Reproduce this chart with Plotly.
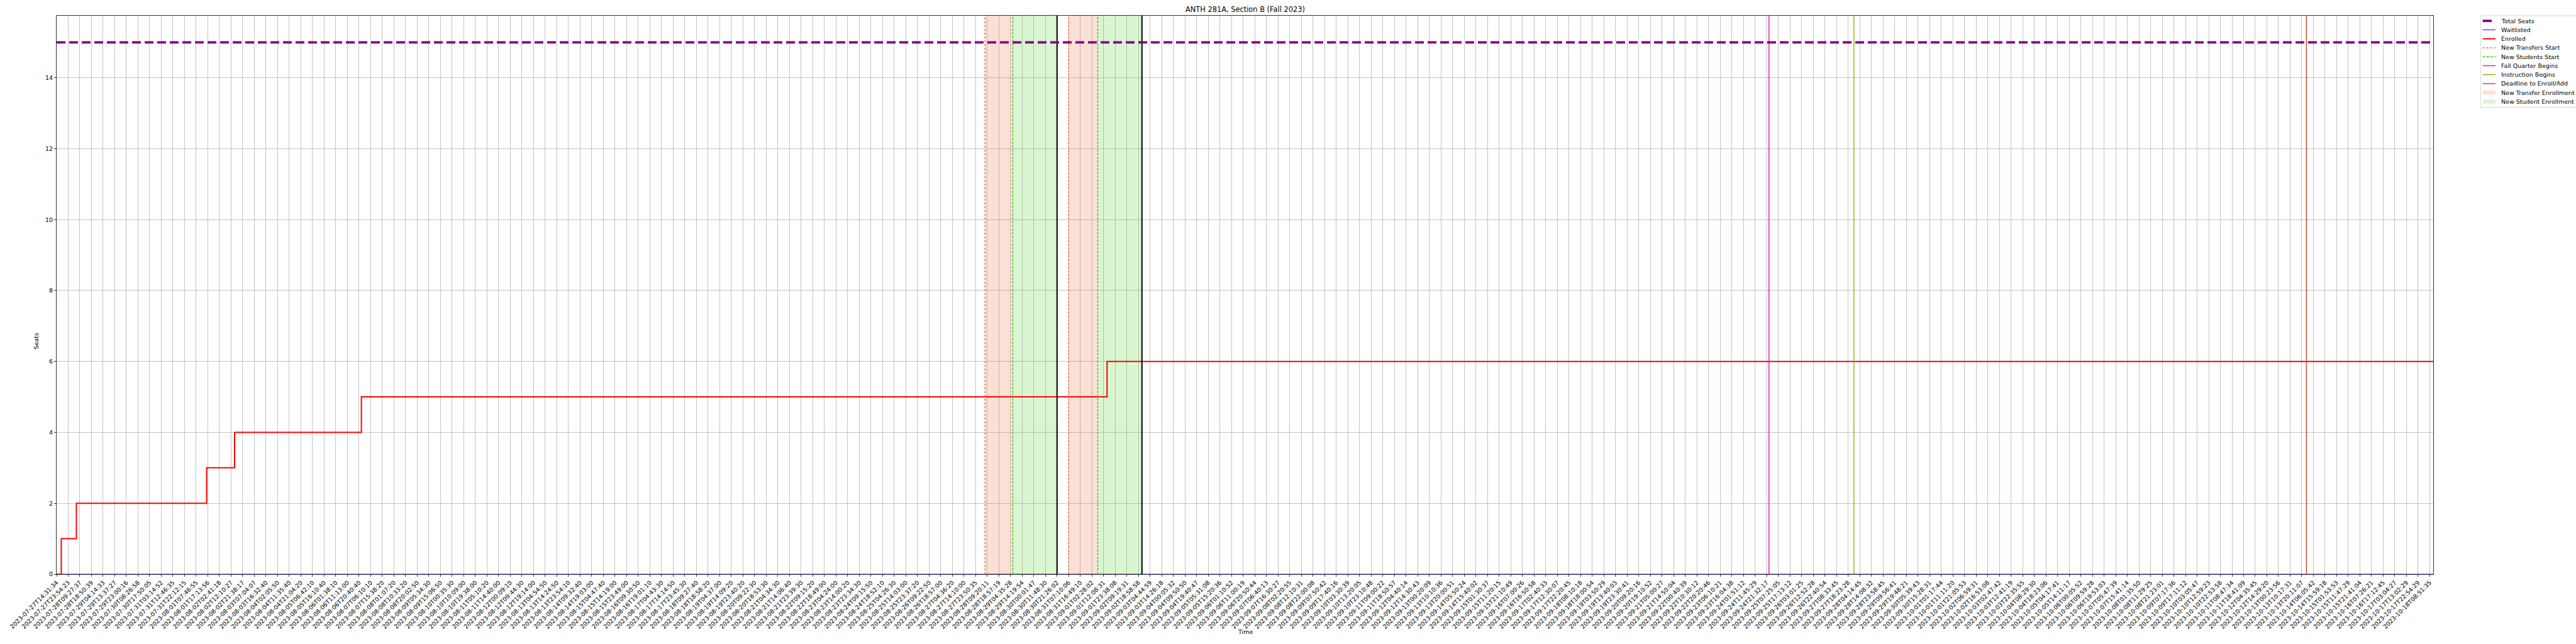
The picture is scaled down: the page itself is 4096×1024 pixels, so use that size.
import numpy as np
import plotly.graph_objects as go

# ---------------- data ----------------
SNAPS_PER_TICK = 10          # snapshots between labelled ticks
n_snapshots = 2044

tick_labels = [
    "2023-07-27T14:31:34", "2023-07-27T23:54:23", "2023-07-28T09:27:37", "2023-07-28T18:50:39",
    "2023-07-29T04:14:33", "2023-07-29T13:37:27", "2023-07-29T23:00:16", "2023-07-30T08:26:58",
    "2023-07-30T17:50:05", "2023-07-31T03:14:52", "2023-07-31T12:46:35", "2023-07-31T22:12:15",
    "2023-08-01T07:46:55", "2023-08-01T17:13:56", "2023-08-02T02:41:18", "2023-08-02T12:10:27",
    "2023-08-02T21:38:17", "2023-08-03T07:04:07", "2023-08-03T16:32:40", "2023-08-04T02:05:50",
    "2023-08-04T11:35:40", "2023-08-04T21:04:20", "2023-08-05T06:42:10", "2023-08-05T16:10:40",
    "2023-08-06T01:38:10", "2023-08-06T11:13:00", "2023-08-06T20:40:40", "2023-08-07T06:10:10",
    "2023-08-07T15:38:20", "2023-08-08T01:07:20", "2023-08-08T10:33:20", "2023-08-08T20:02:50",
    "2023-08-09T05:34:30", "2023-08-09T15:06:50", "2023-08-10T00:35:30", "2023-08-10T10:09:00",
    "2023-08-10T19:38:00", "2023-08-11T05:10:20", "2023-08-11T14:40:00", "2023-08-12T00:09:10",
    "2023-08-12T09:44:30", "2023-08-12T19:14:00", "2023-08-13T04:54:50", "2023-08-13T14:24:50",
    "2023-08-13T23:54:10", "2023-08-14T09:32:40", "2023-08-14T19:03:00", "2023-08-15T04:47:40",
    "2023-08-15T14:19:00", "2023-08-15T23:49:00", "2023-08-16T09:30:50", "2023-08-16T19:01:10",
    "2023-08-17T04:43:30", "2023-08-17T14:14:50", "2023-08-17T23:45:30", "2023-08-18T09:27:40",
    "2023-08-18T18:58:20", "2023-08-19T04:37:00", "2023-08-19T14:09:20", "2023-08-19T23:40:20",
    "2023-08-20T09:22:30", "2023-08-20T18:53:30", "2023-08-21T04:34:30", "2023-08-21T14:06:40",
    "2023-08-21T23:39:30", "2023-08-22T09:15:20", "2023-08-22T18:49:00", "2023-08-23T04:24:00",
    "2023-08-23T14:00:20", "2023-08-23T23:34:30", "2023-08-24T09:15:50", "2023-08-24T18:52:10",
    "2023-08-25T04:26:30", "2023-08-25T14:03:00", "2023-08-25T23:37:20", "2023-08-26T09:22:50",
    "2023-08-26T18:57:00", "2023-08-27T04:36:20", "2023-08-27T14:10:00", "2023-08-27T23:50:35",
    "2023-08-28T09:20:11", "2023-08-28T18:57:19", "2023-08-29T04:35:28", "2023-08-29T14:19:54",
    "2023-08-30T00:01:47", "2023-08-30T11:48:30", "2023-08-30T21:26:02", "2023-08-31T07:10:06",
    "2023-08-31T16:49:10", "2023-09-01T02:28:02", "2023-09-01T12:08:31", "2023-09-01T23:38:08",
    "2023-09-02T09:19:31", "2023-09-02T18:58:58", "2023-09-03T04:44:59", "2023-09-03T14:26:18",
    "2023-09-04T00:05:32", "2023-09-04T09:50:50",
    "2023-09-04T19:40:47", "2023-09-05T05:31:08", "2023-09-05T15:20:36", "2023-09-06T01:10:52",
    "2023-09-06T11:00:19", "2023-09-06T20:50:44", "2023-09-07T06:40:13", "2023-09-07T16:30:27",
    "2023-09-08T02:20:55", "2023-09-08T12:10:31", "2023-09-08T22:00:08", "2023-09-09T07:50:42",
    "2023-09-09T17:40:16", "2023-09-10T03:30:39", "2023-09-10T13:20:05", "2023-09-10T23:10:48",
    "2023-09-11T09:00:22", "2023-09-11T18:50:57", "2023-09-12T04:40:14", "2023-09-12T14:30:43",
    "2023-09-13T00:20:09", "2023-09-13T10:10:36", "2023-09-13T20:00:51", "2023-09-14T05:50:24",
    "2023-09-14T15:40:02", "2023-09-15T01:30:37", "2023-09-15T11:20:15", "2023-09-15T21:10:49",
    "2023-09-16T07:00:26", "2023-09-16T16:50:58", "2023-09-17T02:40:33", "2023-09-17T12:30:07",
    "2023-09-17T22:20:45", "2023-09-18T08:10:18", "2023-09-18T18:00:54", "2023-09-19T03:50:29",
    "2023-09-19T13:40:03", "2023-09-19T23:30:41", "2023-09-20T09:20:16", "2023-09-20T19:10:52",
    "2023-09-21T05:00:27", "2023-09-21T14:50:04", "2023-09-22T00:40:39", "2023-09-22T10:30:12",
    "2023-09-22T20:20:46", "2023-09-23T06:10:21",
    "2023-09-23T16:04:38", "2023-09-24T01:51:12", "2023-09-24T11:45:29", "2023-09-24T21:32:17",
    "2023-09-25T07:25:05", "2023-09-25T17:13:12", "2023-09-26T03:01:25", "2023-09-26T12:52:28",
    "2023-09-26T22:40:54", "2023-09-27T08:33:45", "2023-09-27T18:23:28", "2023-09-28T04:14:45",
    "2023-09-28T14:08:32", "2023-09-28T23:58:45", "2023-09-29T09:56:41", "2023-09-29T19:48:21",
    "2023-09-30T05:39:43", "2023-09-30T15:28:31",
    "2023-10-01T01:17:44", "2023-10-01T11:11:20", "2023-10-01T21:05:53", "2023-10-02T06:59:31",
    "2023-10-02T16:53:08", "2023-10-03T02:47:42", "2023-10-03T12:41:19", "2023-10-03T22:35:55",
    "2023-10-04T08:29:30", "2023-10-04T18:23:06", "2023-10-05T04:17:41", "2023-10-05T14:11:17",
    "2023-10-06T00:05:52", "2023-10-06T09:59:28", "2023-10-06T19:53:03", "2023-10-07T05:47:39",
    "2023-10-07T15:41:14", "2023-10-08T01:35:50", "2023-10-08T11:29:25", "2023-10-08T21:23:01",
    "2023-10-09T07:17:36", "2023-10-09T17:11:12", "2023-10-10T03:05:47", "2023-10-10T12:59:23",
    "2023-10-10T22:53:58", "2023-10-11T08:47:34", "2023-10-11T18:41:09", "2023-10-12T04:35:45",
    "2023-10-12T14:29:20", "2023-10-13T00:23:56", "2023-10-13T10:17:31", "2023-10-13T20:11:07",
    "2023-10-14T06:05:42", "2023-10-14T15:59:18", "2023-10-15T01:53:53", "2023-10-15T11:47:29",
    "2023-10-15T21:41:04",
    "2023-10-16T07:26:21", "2023-10-16T17:12:45", "2023-10-17T03:04:27", "2023-10-17T13:02:29",
    "2023-10-17T22:54:29", "2023-10-18T08:51:35",
]

# enrolment counts: snapshot index where each new value starts
enroll_change_idx = [0, 4, 17, 129, 153, 262, 903]
enroll_values = [0, 1, 2, 3, 4, 5, 6]
waitlisted_value = 0
total_seats = 15

# event markers (snapshot index)
transfer_start_idx = [798, 870]
student_start_idx = [822, 895]
enrollment_end_idx = [860, 933]
fall_quarter_idx = 1472
instruction_idx = 1545
deadline_idx = 1934

title_text = "ANTH 281A, Section B (Fall 2023)"
x_title = "Time"
y_title = "Seats"

# ---------------- styling ----------------
S = 0.682
FONT = "DejaVu Sans"
Y_MAX = 15.75
W, H = 4096, 1024
L, R, T, B = 131.3 * S, 5672.3 * S, 37.3 * S, 1339.3 * S

C_SEATS = "#800080"
C_WAIT = "#0000ff"
C_ENR = "#ff0000"
C_TR = "#ea6a2a"
C_ST = "#3ccc1c"
C_FQ = "#e0109a"
C_IB = "#8db600"
C_DL = "#c8401a"
TR_FILL = "rgba(235,110,60,0.21)"
ST_FILL = "rgba(80,210,40,0.21)"

x = np.arange(n_snapshots)
enrolled = np.array(enroll_values)[np.searchsorted(enroll_change_idx, x, side="right") - 1]
waitlisted = np.full(n_snapshots, waitlisted_value)
seats = np.full(n_snapshots, total_seats)

fig = go.Figure()


def vline(xv, color, width, dash):
    fig.add_trace(go.Scatter(x=[xv, xv], y=[0, Y_MAX], mode="lines", hoverinfo="skip",
                             showlegend=False, line=dict(color=color, width=width, dash=dash)))


def vspan(x0, x1, color):
    fig.add_trace(go.Scatter(x=[x0, x0, x1, x1, x0], y=[0, Y_MAX, Y_MAX, 0, 0], mode="lines",
                             fill="toself", fillcolor=color, line=dict(width=0, color=color),
                             showlegend=False, hoverinfo="skip"))


for i in range(2):
    vspan(transfer_start_idx[i], student_start_idx[i], TR_FILL)
    vspan(student_start_idx[i], enrollment_end_idx[i], ST_FILL)

fig.add_trace(go.Scatter(x=x, y=waitlisted, mode="lines", showlegend=False,
                         line=dict(color=C_WAIT, width=1.0)))
fig.add_trace(go.Scatter(x=x, y=enrolled, mode="lines", showlegend=False,
                         line=dict(color=C_ENR, width=2.0, shape="hv")))

for i in range(2):
    vline(transfer_start_idx[i], C_TR, 1.4, "dot")
    vline(student_start_idx[i], C_ST, 1.4, "4px,2px")
    vline(enrollment_end_idx[i], "#000000", 2.0, "solid")
vline(fall_quarter_idx, C_FQ, 1.4, "solid")
vline(instruction_idx, C_IB, 1.4, "solid")
vline(deadline_idx, C_DL, 1.4, "solid")

fig.add_trace(go.Scatter(x=x, y=seats, mode="lines", showlegend=False,
                         line=dict(color=C_SEATS, width=3.8, dash="14px,6px")))

tickvals = [i * SNAPS_PER_TICK for i in range(len(tick_labels))]

# ---------------- legend (drawn in pixel space) ----------------
def px_x(p):
    return (p - L) / (R - L)


def px_y(p):
    return (B - p) / (B - T)


legend_items = [
    ("Total Seats", "line", C_SEATS, 3.8, "solid", 14.3),
    ("Waitlisted", "line", C_WAIT, 1.0, "solid", 20.2),
    ("Enrolled", "line", C_ENR, 2.0, "solid", 20.2),
    ("New Transfers Start", "line", C_TR, 1.4, "dot", 20.2),
    ("New Students Start", "line", C_ST, 1.4, "4px,2px", 20.2),
    ("Fall Quarter Begins", "line", C_FQ, 1.4, "solid", 20.2),
    ("Instruction Begins", "line", C_IB, 1.4, "solid", 20.2),
    ("Deadline to Enroll/Add", "line", C_DL, 1.4, "solid", 20.2),
    ("New Transfer Enrollment", "patch", TR_FILL, 0, "", 20.2),
    ("New Student Enrollment", "patch", ST_FILL, 0, "", 20.2),
]
LEG_X0, LEG_TOP, LEG_BOT = 5782.7 * S, 37.3 * S, 250.7 * S
SYM_X0, TXT_X = 5787.7 * S, 5827.0 * S
ROW0, ROW_STEP = 49.3 * S, 20.9 * S

shapes = [dict(type="rect", xref="paper", yref="paper", x0=px_x(LEG_X0), x1=px_x(W + 20),
               y0=px_y(LEG_BOT), y1=px_y(LEG_TOP), fillcolor="white",
               line=dict(color="#cccccc", width=0.8), layer="above")]
annotations = []
for k, (name, kind, color, width, dash, length) in enumerate(legend_items):
    yc = ROW0 + k * ROW_STEP
    if kind == "line":
        shapes.append(dict(type="line", xref="paper", yref="paper", x0=px_x(SYM_X0),
                           x1=px_x(SYM_X0 + length), y0=px_y(yc), y1=px_y(yc),
                           line=dict(color=color, width=width, dash=dash), layer="above"))
    else:
        shapes.append(dict(type="rect", xref="paper", yref="paper", x0=px_x(SYM_X0),
                           x1=px_x(SYM_X0 + length), y0=px_y(yc + 3.2), y1=px_y(yc - 3.2),
                           fillcolor=color, line=dict(width=0), layer="above"))
    annotations.append(dict(text=name, xref="paper", yref="paper", x=px_x(TXT_X), y=px_y(yc),
                            xanchor="left", yanchor="middle", showarrow=False,
                            font=dict(family=FONT, size=9.5, color="black")))

annotations += [
    dict(text=title_text, xref="paper", yref="paper", x=0.5, y=px_y(15.6),
         xanchor="center", yanchor="middle", showarrow=False,
         font=dict(family=FONT, size=11.4, color="black")),
    dict(text=x_title, xref="paper", yref="paper", x=0.5, y=px_y(1005.0),
         xanchor="center", yanchor="middle", showarrow=False,
         font=dict(family=FONT, size=9.5, color="black")),
    dict(text=y_title, xref="paper", yref="paper", x=px_x(57.5), y=px_y(543.0),
         xanchor="center", yanchor="middle", textangle=-90, showarrow=False,
         font=dict(family=FONT, size=9.5, color="black")),
]

axis_common = dict(showline=True, linecolor="black", linewidth=0.8, mirror=True,
                   showgrid=True, gridcolor="#b0b0b0", gridwidth=0.75, zeroline=False,
                   ticks="outside", ticklen=3.3, tickwidth=0.8, tickcolor="black",
                   automargin=False,
                   tickfont=dict(family=FONT, size=9.5, color="black"))

fig.update_layout(
    width=W, height=H, autosize=False,
    margin=dict(l=L, r=W - R, t=T, b=H - B, pad=0, autoexpand=False),
    plot_bgcolor="white", paper_bgcolor="white",
    font=dict(family=FONT, size=9.5, color="black"),
    showlegend=False, hovermode=False,
    xaxis=dict(range=[0, n_snapshots - 1], tickmode="array", tickvals=tickvals,
               ticktext=tick_labels, tickangle=-45, **axis_common),
    yaxis=dict(range=[0, Y_MAX], tickmode="array", tickvals=list(range(0, 15, 2)),
               **axis_common),
    shapes=shapes,
    annotations=annotations,
)

# remove the browser's default page margin so the figure sits at (0, 0)
page_fix = ("document.body.style.margin='0px';document.body.style.padding='0px';"
            "document.body.style.overflow='hidden';")
fig.write_html("out.html", post_script=page_fix,
               config={"displayModeBar": False, "staticPlot": True})
